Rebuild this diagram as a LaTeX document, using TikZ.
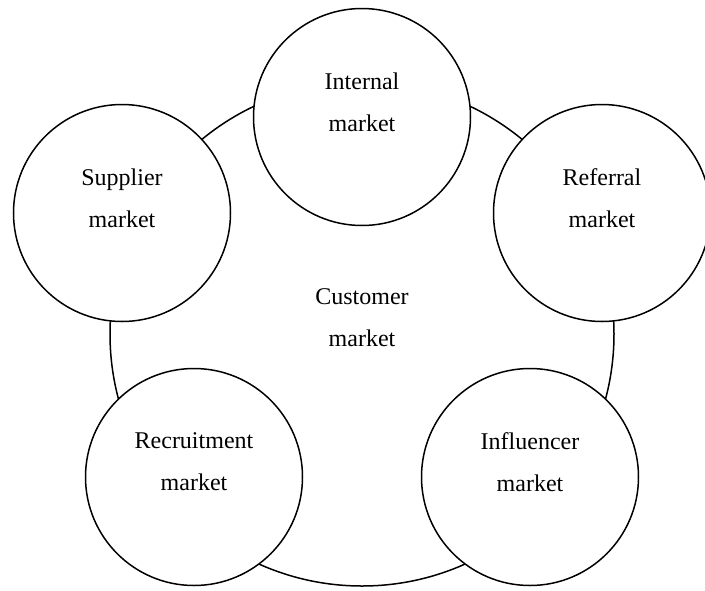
\documentclass[tikz,border=0pt]{standalone}
\usepackage{fontspec}
\setmainfont{Liberation Serif}
\begin{document}
\begin{tikzpicture}[x=1pt,y=-1pt]
\tikzstyle{customer}=[draw,circle,line width=1.5pt,minimum size=504pt,inner sep=0pt]
\tikzstyle{market}=[draw,circle,fill=white,line width=1.5pt,minimum size=217pt,inner sep=0pt]
\tikzstyle{marketlabel}=[align=center,font=\fontsize{24}{42}\selectfont]
\useasboundingbox (0,0) rectangle (705,590);
\node[customer] (cm) at (362,334) {};
\node[market] (im) at (362,117) {};
\node[market] (sm) at (122,213) {};
\node[market] (rm) at (602,213) {};
\node[market] (hm) at (194,477) {};
\node[market] (fm) at (530,477) {};
\node[marketlabel] (cm-text) at ([yshift=16pt]cm.center) {Customer\\market};
\node[marketlabel] (im-text) at ([yshift=15pt]im.center) {Internal\\market};
\node[marketlabel] (sm-text) at ([yshift=15pt]sm.center) {Supplier\\market};
\node[marketlabel] (rm-text) at ([yshift=15pt]rm.center) {Referral\\market};
\node[marketlabel] (hm-text) at ([yshift=15pt]hm.center) {Recruitment\\market};
\node[marketlabel] (fm-text) at ([yshift=15pt]fm.center) {Influencer\\market};
\end{tikzpicture}
\end{document}
